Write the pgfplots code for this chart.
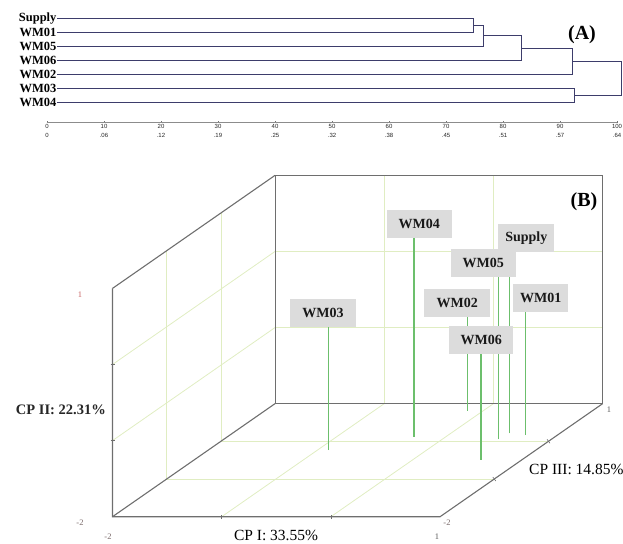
\documentclass[border=0pt]{standalone}
\usepackage{pgfplots}
\pgfplotsset{compat=1.18}
\usepackage{fontspec}
\setmainfont{Liberation Serif}
\newfontfamily\sansf{Liberation Sans}
\definecolor{dendro}{HTML}{3D3D6B}
\definecolor{axgray}{HTML}{8C8C8C}
\definecolor{gridc}{HTML}{E0EDC2}
\definecolor{boxc}{HTML}{6E6E6E}
\definecolor{needle}{HTML}{6CBF6C}
\definecolor{lblfill}{HTML}{DCDCDC}
\definecolor{tickred}{HTML}{C86464}
\definecolor{tickgray}{HTML}{7A6A6A}

\pgfplotsset{
  lbl/.style 2 args={draw=none, mark=none, nodes near coords, point meta=explicit symbolic,
    nodes near coords style={anchor=south, fill=lblfill, inner xsep=0pt, inner ysep=0pt,
      minimum width=#2, minimum height=28pt, xshift=#1, yshift=-0.3pt,
      font=\bfseries\fontsize{14}{15}\selectfont, text=black!90}},
  ndl/.style={color=needle, draw=needle, solid, line width=1.2pt, mark=none},
  den/.style={color=dendro, draw=dendro, solid, line width=0.9pt, mark=none},
}

\begin{document}
\begin{tikzpicture}
\useasboundingbox (0pt,0pt) rectangle (623pt,543pt);

% ---------------- (A) dendrogram ----------------
\begin{axis}[
  at={(47pt,420.3pt)}, anchor=south west,
  x=5.7pt, y=14.07pt,
  xmin=0, xmax=100, ymin=0, ymax=8,
  axis x line=bottom, axis y line=none,
  axis line style={draw=axgray, line width=1.5pt, -},
  xtick={0,10,...,100},
  xticklabels={{0\\0},{10\\.06},{20\\.12},{30\\.19},{40\\.25},{50\\.32},{60\\.38},{70\\.45},{80\\.51},{90\\.57},{100\\.64}},
  xticklabel style={align=center, font=\sansf\fontsize{6}{9}\selectfont, text=black!85, inner sep=1pt},
  major tick length=2pt, xtick align=inside,
  tick style={draw=black!55, line width=0.6pt},
  clip=false,
]
\addplot[den] coordinates {(1.8,7.42) (74.8,7.42) (74.8,6.42) (1.8,6.42)};
\addplot[den] coordinates {(74.8,6.92) (76.5,6.92) (76.5,5.42) (1.8,5.42)};
\addplot[den] coordinates {(76.5,6.17) (83.2,6.17) (83.2,4.42) (1.8,4.42)};
\addplot[den] coordinates {(83.2,5.295) (92.2,5.295) (92.2,3.42) (1.8,3.42)};
\addplot[den] coordinates {(1.8,2.42) (92.5,2.42) (92.5,1.42) (1.8,1.42)};
\addplot[den] coordinates {(92.2,4.3575) (100.8,4.3575) (100.8,1.92) (92.5,1.92)};
\node[anchor=east, inner sep=0.6pt, font=\bfseries\fontsize{12.5}{13}\selectfont] at (axis cs:1.8,7.42) {Supply};
\node[anchor=east, inner sep=0.6pt, font=\bfseries\fontsize{12.5}{13}\selectfont] at (axis cs:1.8,6.42) {WM01};
\node[anchor=east, inner sep=0.6pt, font=\bfseries\fontsize{12.5}{13}\selectfont] at (axis cs:1.8,5.42) {WM05};
\node[anchor=east, inner sep=0.6pt, font=\bfseries\fontsize{12.5}{13}\selectfont] at (axis cs:1.8,4.42) {WM06};
\node[anchor=east, inner sep=0.6pt, font=\bfseries\fontsize{12.5}{13}\selectfont] at (axis cs:1.8,3.42) {WM02};
\node[anchor=east, inner sep=0.6pt, font=\bfseries\fontsize{12.5}{13}\selectfont] at (axis cs:1.8,2.42) {WM03};
\node[anchor=east, inner sep=0.6pt, font=\bfseries\fontsize{12.5}{13}\selectfont] at (axis cs:1.8,1.42) {WM04};
\end{axis}

% ---------------- (B) 3D PCA ----------------
\begin{axis}[
  at={(439.3pt,253.9pt)}, anchor=origin,
  x={(109.2pt,0pt)}, y={(54.2pt,37.7pt)}, z={(0pt,76.1pt)},
  xmin=-2, xmax=1, ymin=-2, ymax=1, zmin=-2, zmax=1,
  hide axis, clip=false,
]
% grid on background planes
\pgfplotsinvokeforeach{-1,0}{
  \draw[draw=gridc, line width=0.8pt] (axis cs:-2,#1,-2) -- (axis cs:-2,#1,1);
  \draw[draw=gridc, line width=0.8pt] (axis cs:-2,-2,#1) -- (axis cs:-2,1,#1);
  \draw[draw=gridc, line width=0.8pt] (axis cs:#1,-2,-2) -- (axis cs:#1,1,-2);
  \draw[draw=gridc, line width=0.8pt] (axis cs:-2,#1,-2) -- (axis cs:1,#1,-2);
  \draw[draw=gridc, line width=0.8pt] (axis cs:#1,1,-2) -- (axis cs:#1,1,1);
  \draw[draw=gridc, line width=0.8pt] (axis cs:-2,1,#1) -- (axis cs:1,1,#1);
}
% box
\draw[draw=boxc, line width=1.1pt] (axis cs:-2,-2,1) -- (axis cs:-2,-2,-2) -- (axis cs:1,-2,-2) -- (axis cs:1,1,-2);
\draw[draw=boxc, line width=1.1pt] (axis cs:-2,-2,-2) -- (axis cs:-2,1,-2);
\draw[draw=boxc, line width=1.1pt] (axis cs:-2,-2,1) -- (axis cs:-2,1,1);
\draw[draw=boxc, line width=1.1pt] (axis cs:-2,1,-2) -- (axis cs:1,1,-2) -- (axis cs:1,1,1) -- (axis cs:-2,1,1) -- cycle;
% tick marks
\pgfplotsinvokeforeach{-1,0}{
  \draw[draw=boxc, line width=0.6pt] ([xshift=-2pt]axis cs:-2,-2,#1) -- ([xshift=2pt]axis cs:-2,-2,#1);
  \draw[draw=boxc, line width=0.6pt] ([yshift=-2pt]axis cs:#1,-2,-2) -- ([yshift=2pt]axis cs:#1,-2,-2);
  \draw[draw=boxc, line width=0.6pt] ([xshift=-1.5pt,yshift=2pt]axis cs:1,#1,-2) -- ([xshift=1.5pt,yshift=-2pt]axis cs:1,#1,-2);
}
% needles (CP I, CP III, CP II)
\addplot3[ndl] coordinates {(-0.898,-0.231,-2) (-0.898,-0.231,-0.380)};
\addplot3[ndl] coordinates {(-0.292,0.122,-2) (-0.292,0.122,0.611)};
\addplot3[ndl] coordinates {(-0.147,0.812,-2) (-0.147,0.812,-0.769)};
\addplot3[ndl] coordinates {(0.536,0.212,-2) (0.536,0.212,0.386)};
\addplot3[ndl] coordinates {(0.517,0.053,-2) (0.517,0.053,0.137)};
\addplot3[ndl] coordinates {(0.704,0.167,-2) (0.704,0.167,-0.380)};
\addplot3[ndl] coordinates {(0.628,-0.496,-2) (0.628,-0.496,-0.607)};
% labels
\addplot3[lbl={-5.7pt}{66pt}] coordinates {(-0.898,-0.231,-0.380) [WM03]};
\addplot3[lbl={5.2pt}{65pt}] coordinates {(-0.292,0.122,0.611) [WM04]};
\addplot3[lbl={-10.1pt}{66pt}] coordinates {(-0.147,0.812,-0.769) [WM02]};
\addplot3[lbl={17pt}{56pt}] coordinates {(0.536,0.212,0.386) [Supply]};
\addplot3[lbl={-15.4pt}{65pt}] coordinates {(0.517,0.053,0.137) [WM05]};
\addplot3[lbl={15.5pt}{55pt}] coordinates {(0.704,0.167,-0.380) [WM01]};
\addplot3[lbl={0.3pt}{64pt}] coordinates {(0.628,-0.496,-0.607) [WM06]};
\end{axis}

% titles and tick labels
\node[font=\bfseries\fontsize{20}{22}\selectfont] at (582pt,508pt) {(A)};
\node[font=\bfseries\fontsize{20}{22}\selectfont] at (584pt,341pt) {(B)};
\node[font=\bfseries\fontsize{14.5}{16}\selectfont, anchor=east, inner sep=0pt, text=black!85] at (106pt,133pt) {CP II: 22.31\%};
\node[font=\fontsize{15.5}{17}\selectfont, inner sep=0pt] at (276pt,7.5pt) {CP I: 33.55\%};
\node[font=\fontsize{15.5}{17}\selectfont, anchor=west, inner sep=0pt] at (529pt,74pt) {CP III: 14.85\%};
\node[font=\fontsize{8.5}{9}\selectfont, inner sep=0pt, text=tickred] at (80pt,248pt) {1};
\node[font=\fontsize{8.5}{9}\selectfont, inner sep=0pt, text=tickgray] at (80pt,20pt) {-2};
\node[font=\fontsize{8.5}{9}\selectfont, inner sep=0pt, text=tickgray] at (108pt,6pt) {-2};
\node[font=\fontsize{8.5}{9}\selectfont, inner sep=0pt, text=black!65] at (437pt,6pt) {1};
\node[font=\fontsize{8.5}{9}\selectfont, inner sep=0pt, text=tickgray] at (447pt,20pt) {-2};
\node[font=\fontsize{8.5}{9}\selectfont, inner sep=0pt, text=black!65] at (609pt,133pt) {1};
\end{tikzpicture}
\end{document}
